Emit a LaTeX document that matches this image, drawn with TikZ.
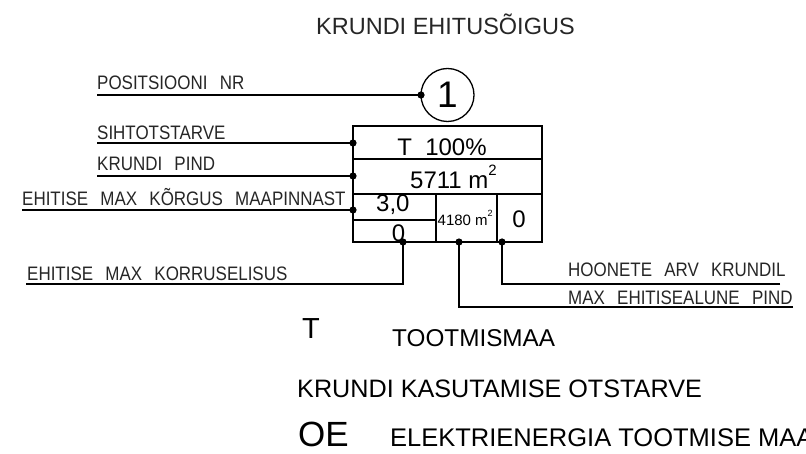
\documentclass[tikz,border=0pt]{standalone}
\usepackage{fontspec}
\setmainfont{Liberation Sans}
\newfontfamily\isofont[FakeStretch=0.87,WordSpace=2.6]{Liberation Sans}
\newcommand{\fsz}[1]{\fontsize{#1}{#1}\selectfont}
\begin{document}
\begin{tikzpicture}[x=1pt,y=-1pt,
  lbl/.style={anchor=base west,inner sep=0pt,font=\isofont\fsz{19.5},text=black!85},
  cell/.style={inner sep=0pt,font=\fsz{24}},
  legend/.style={anchor=base west,inner sep=0pt},
  ln/.style={line width=1.5pt,black},
  dotc/.style={fill=black}]
\useasboundingbox (0,0) rectangle (806,454);
% title
\node[legend,font=\fsz{23.5},text=black!85] (title) at (316,35) {KRUNDI EHITUSÕIGUS};
% position circle
\node[draw,circle,line width=1.3pt,minimum size=53pt,inner sep=0pt,font=\fsz{37}] (pos) at (447.5,95) {1};
% table
\coordinate (tl) at (353,126);
\coordinate (br) at (542,242);
\draw[ln] (tl) rectangle (br);
\coordinate (r1l) at (353,159); \coordinate (r1r) at (542,159);
\coordinate (r2l) at (353,194); \coordinate (r2r) at (542,194);
\coordinate (r3l) at (353,220); \coordinate (r3r) at (436,220);
\coordinate (v1t) at (436,194); \coordinate (v1b) at (436,242);
\coordinate (v2t) at (497,194); \coordinate (v2b) at (497,242);
\draw[ln] (r1l) -- (r1r);
\draw[ln] (r2l) -- (r2r);
\draw[ln] (r3l) -- (r3r);
\draw[ln] (v1t) -- (v1b);
\draw[ln] (v2t) -- (v2b);
% cell texts
\node[cell,anchor=base] (c1) at (442,156) {T\ \ 100\%};
\node[cell,anchor=base west] (c2) at (410,189) {5711 m\raisebox{0.55em}{\fsz{15}2}};
\node[cell,anchor=base west] (c3) at (376,212) {3,0};
\node[cell,anchor=base] (c4) at (398.5,242) {0};
\node[cell,anchor=base west,font=\fsz{15}] (c5) at (437.5,226) {4180 m\raisebox{0.6em}{\fsz{9}2}};
\node[cell,anchor=base] (c6) at (519,228) {0};
% dots
\coordinate (dpos) at (421,95);
\coordinate (d1) at (353,143);
\coordinate (d2) at (353,176);
\coordinate (d3) at (353,210);
\coordinate (d4) at (403,242);
\coordinate (d5) at (459,242);
\coordinate (d6) at (502,242);
\foreach \d in {dpos,d1,d2,d3,d4,d5,d6} \fill[dotc] (\d) circle[radius=3.6pt];
% labels
\node[lbl] (l0) at (97,90) {POSITSIOONI NR};
\node[lbl] (l1) at (97,140) {SIHTOTSTARVE};
\node[lbl] (l2) at (97,171) {KRUNDI PIND};
\node[lbl] (l3) at (22,206) {EHITISE MAX KÕRGUS MAAPINNAST};
\node[lbl] (l4) at (27,281) {EHITISE MAX KORRUSELISUS};
\node[lbl] (l5) at (568,277) {HOONETE ARV KRUNDIL};
\node[lbl] (l6) at (568,305) {MAX EHITISEALUNE PIND};
% leader lines
\coordinate (e0) at (97,95);
\coordinate (e1) at (97,143);
\coordinate (e2) at (97,176);
\coordinate (e3) at (22,210);
\coordinate (e4) at (26,284);
\coordinate (k4) at (403,284);
\coordinate (k5) at (502,284);
\coordinate (e5) at (780,284);
\coordinate (k6) at (459,307);
\coordinate (e6) at (793,307);
\draw[ln] (e0) -- (dpos);
\draw[ln] (e1) -- (d1);
\draw[ln] (e2) -- (d2);
\draw[ln] (e3) -- (d3);
\draw[ln] (e4) -- (k4) -- (d4);
\draw[ln] (e5) -- (k5) -- (d6);
\draw[ln] (e6) -- (k6) -- (d5);
% legend
\node[legend,font=\fsz{29}] (gT) at (302,339) {T};
\node[legend,font=\fsz{24.3}] (gTt) at (392,347) {TOOTMISMAA};
\node[legend,font=\fsz{25.2}] (gK) at (297,397) {KRUNDI KASUTAMISE OTSTARVE};
\node[legend,font=\fsz{35}] (gOE) at (298,446) {OE};
\node[legend,font=\fsz{25.5}] (gOEt) at (390,446) {ELEKTRIENERGIA TOOTMISE MAA};
\end{tikzpicture}
\end{document}
